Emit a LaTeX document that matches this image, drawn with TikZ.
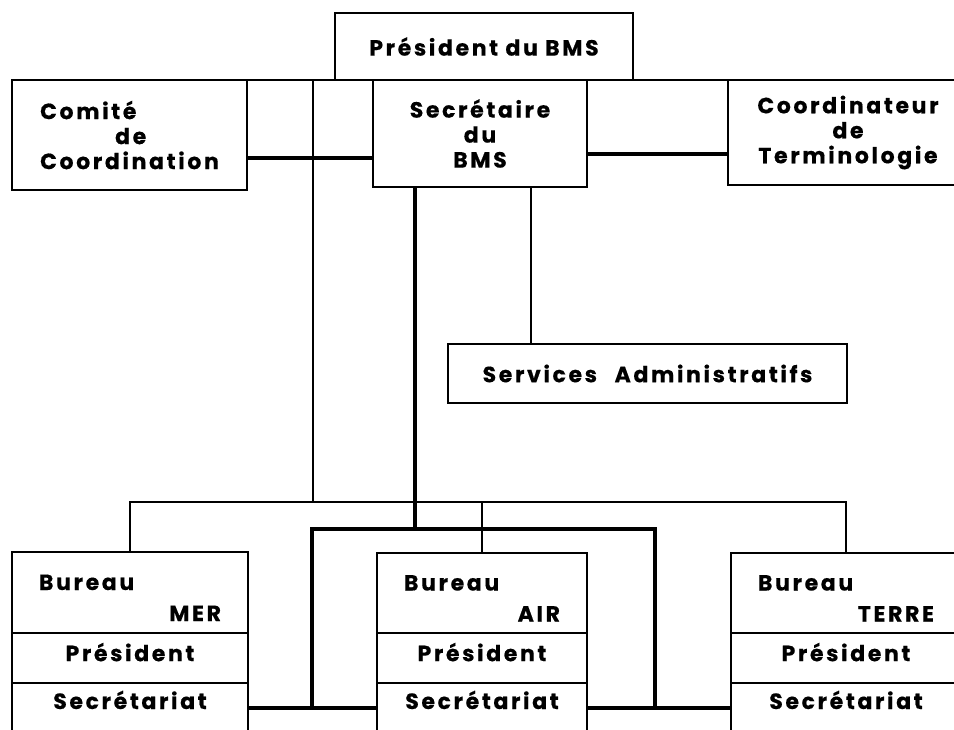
\documentclass[tikz,border=0pt]{standalone}
\usepackage{fontspec}
\setmainfont{Poppins}[LetterSpace=12, BoldFeatures={FakeBold=0.5}]
\usetikzlibrary{positioning}

\begin{document}
\begin{tikzpicture}[x=1pt,y=-1pt,
  box/.style   = {rectangle, draw, line width=2.4pt, outer sep=0pt, inner sep=0pt,
                  font=\fontsize{22}{25}\selectfont\bfseries, align=center},
  cell/.style  = {box, minimum width=#1},
  link/.style  = {line width=2.4pt},
  side/.style  = {line width=3.6pt},
  heavy/.style = {line width=4.8pt},
]
\useasboundingbox (0,0) rectangle (954,729);
\clip (0,0) rectangle (954,729);

% ── Direction ────────────────────────────────────────────────
\node[box, minimum width=298, minimum height=67, anchor=north west] (pres) at (335,13) {Président du BMS};
\node[box, minimum width=235, minimum height=110, anchor=north west, align=left] (com) at (12,80)
  {Comité\\\hspace*{75pt}de\\Coordination};
\node[box, minimum width=214, minimum height=107, anchor=north west] (sec) at (373,80) {Secrétaire\\du\\BMS};
\node[box, minimum width=240, minimum height=105, anchor=north west] (coord) at (728,80)
  {Coordinateur\\de\\Terminologie};
\node[box, minimum width=399, minimum height=59, anchor=north west] (svc) at (448,344)
  {Services\hspace{0.8em}Administratifs};

% ── Bureaux ──────────────────────────────────────────────────
\node[cell=236, minimum height=81, anchor=north west, text width=182, align=left, text height=26] (merT) at (12,552)
  {Bureau\\[6pt]\hspace*{\fill}MER};
\node[cell=236, minimum height=50, below=0pt of merT, text depth=12] (merP) {Président};
\node[cell=236, below=0pt of merP, inner ysep=8, text height=18, text depth=60] (merS) {Secrétariat};

\node[cell=210, minimum height=80, anchor=north west, text width=156, align=left, text height=26] (airT) at (377,553)
  {Bureau\\[6pt]\hspace*{\fill}AIR};
\node[cell=210, minimum height=50, below=0pt of airT, text depth=12] (airP) {Président};
\node[cell=210, below=0pt of airP, inner ysep=8, text height=18, text depth=60] (airS) {Secrétariat};

\node[cell=230, minimum height=80, anchor=north west, text width=176, align=left, text height=26] (terT) at (731,553)
  {Bureau\\[6pt]\hspace*{\fill}TERRE};
\node[cell=230, minimum height=50, below=0pt of terT, text depth=12] (terP) {Président};
\node[cell=230, below=0pt of terP, inner ysep=8, text height=18, text depth=60] (terS) {Secrétariat};

% ── Liaisons ─────────────────────────────────────────────────
\coordinate (jA) at (313,80);
\coordinate (jB) at (313,502);
\coordinate (sv) at (531,0);
\coordinate (sL) at (0,158);
\coordinate (sR) at (0,154);
\coordinate (kA) at (415,529);
\coordinate (kL) at (312,708);
\coordinate (kR) at (655,708);

\draw[link] (com.north east) -- (sec.north west);
\draw[link] (sec.north east) -- (coord.north west);
\draw[side] (com.east |- sL) -- (sec.west |- sL);
\draw[side] (sec.east |- sR) -- (coord.west |- sR);
\draw[link] (sec.south -| sv) -- (svc.north -| sv);

\draw[link] (jA) -- (jB);
\draw[link] (merT.north) |- (jB) -| (terT.north);
\draw[link] (airT.north) -- (airT.north |- jB);

\draw[heavy] (sec.south -| kA) -- (kA);
\draw[heavy] (kL) -- (kL |- kA) -- (kR |- kA) -- (kR);
\draw[heavy] (merS.east |- kL) -- (airS.west |- kL);
\draw[heavy] (airS.east |- kR) -- (terS.west |- kR);

\end{tikzpicture}
\end{document}
